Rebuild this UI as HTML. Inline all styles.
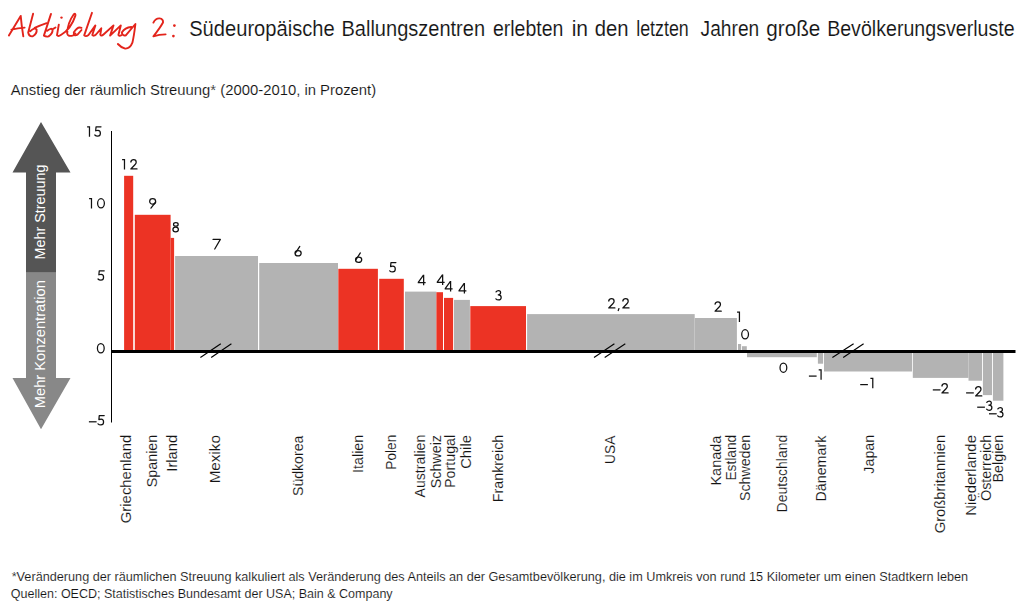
<!DOCTYPE html>
<html><head><meta charset="utf-8"><style>
html,body{margin:0;padding:0;background:#fff;width:1024px;height:613px;overflow:hidden}
svg{position:absolute;left:0;top:0;display:block}
text{font-family:"Liberation Sans",sans-serif;fill:#141414}
.xl{stroke:#fff;stroke-width:0.12px}
.wt{stroke:none}
</style></head><body>
<svg width="1024" height="613" viewBox="0 0 1024 613">

<g fill="none" stroke="#e3241b" stroke-width="1.9" stroke-linecap="round" stroke-linejoin="round">
<path d="M8.9,35.4 L20.7,15.9 Q21.6,26 23.3,36.4 M11.4,29.6 Q18,28 24.6,27.6"/>
<path d="M33.1,13.7 L28.2,32.5 Q29,36.8 32.8,36.3 Q37.2,33.5 36.6,29.6 Q35,27 30.2,31.2 M34.6,27.9 Q40,25.5 46.6,23.2"/>
<path d="M51,13.9 L43.9,35.6 Q46,37 48.6,36.4 Q52.8,33.5 52.6,29.8 Q51.4,27.4 47.2,30.8 M52.4,29.4 L55.5,27.5"/>
<path d="M58.8,24.7 L57,35.2 Q58.2,36.8 61.2,34.8 Q71,29 75.4,15.6 Q75.8,12.8 73.8,14.2 Q67.4,23 67.2,33.6 Q67.8,37 73.3,35.3 L75.5,33.6"/>
<circle cx="61.5" cy="17.6" r="1.2" fill="#e3241b" stroke="none"/>
<path d="M81.5,27.8 Q77.5,26 73.8,32.5 Q73.6,36.6 77.5,34.6 L81.5,30 M92,12.8 L84.2,35.4 Q86,37 88.5,35 L95.4,25.4 L92.3,35 Q93.5,36.6 96,34.5 L101.3,28.3 L100.3,34.6 Q101.2,36.6 103.5,34.5 L113.5,25.4 L110.1,35.6 L120.8,25.4 L118.4,35 Q119,36.6 121.5,35.2"/>
<path d="M131.2,27 Q125,27.5 121.8,32.5 Q122.5,36.2 125.8,35.3 L135.4,24 Q134,36 132.4,42.7 Q130,48.8 125.2,48.6 Q121,47.5 117.9,44"/>
<path d="M153.4,22.6 Q155.5,18.2 159.5,18.4 Q163.5,19 163,22.5 Q160,28 153.4,36.3 Q159,34.6 165.6,34.4"/>
<circle cx="174.4" cy="25.6" r="1.35" fill="#e3241b" stroke="none"/><circle cx="173.4" cy="36.1" r="1.35" fill="#e3241b" stroke="none"/>
</g>
<text class="xl" x="189.19" y="35.6" font-size="22.5" textLength="145.47" lengthAdjust="spacingAndGlyphs">Südeuropäische</text>
<text class="xl" x="341.50" y="35.6" font-size="22.5" textLength="143.53" lengthAdjust="spacingAndGlyphs">Ballungszentren</text>
<text class="xl" x="492.92" y="35.6" font-size="22.5" textLength="70.42" lengthAdjust="spacingAndGlyphs">erlebten</text>
<text class="xl" x="571.63" y="35.6" font-size="22.5" textLength="16.41" lengthAdjust="spacingAndGlyphs">in</text>
<text class="xl" x="594.69" y="35.6" font-size="22.5" textLength="33.80" lengthAdjust="spacingAndGlyphs">den</text>
<text class="xl" x="636.24" y="35.6" font-size="22.5" textLength="52.54" lengthAdjust="spacingAndGlyphs">letzten</text>
<text class="xl" x="700.61" y="35.6" font-size="22.5" textLength="58.59" lengthAdjust="spacingAndGlyphs">Jahren</text>
<text class="xl" x="766.27" y="35.6" font-size="22.5" textLength="54.01" lengthAdjust="spacingAndGlyphs">große</text>
<text class="xl" x="827.13" y="35.6" font-size="22.5" textLength="187.47" lengthAdjust="spacingAndGlyphs">Bevölkerungsverluste</text>
<text class="xl" x="10.7" y="95" font-size="15" textLength="365.5" lengthAdjust="spacingAndGlyphs">Anstieg der räumlich Streuung* (2000-2010, in Prozent)</text>
<path d="M41,122 L70.5,172.6 L56,172.6 L56,272.8 L26,272.8 L26,172.6 L12.5,172.6 Z" fill="#555"/>
<path d="M41,429.2 L70.5,378 L56,378 L56,272.8 L26,272.8 L26,378 L12.5,378 Z" fill="#888"/>
<rect x="124.1" y="175.8" width="9.1" height="174.2" fill="#ec3324"/>
<rect x="134.8" y="214.8" width="35.8" height="135.2" fill="#ec3324"/>
<rect x="170.6" y="237.9" width="3.5" height="112.1" fill="#ec3324"/>
<rect x="175.1" y="256.0" width="82.9" height="94.0" fill="#b3b3b3"/>
<rect x="259.2" y="263.0" width="78.8" height="87.0" fill="#b3b3b3"/>
<rect x="338.3" y="268.8" width="39.6" height="81.2" fill="#ec3324"/>
<rect x="379.2" y="278.8" width="24.6" height="71.2" fill="#ec3324"/>
<rect x="405.0" y="291.6" width="31.4" height="58.4" fill="#b3b3b3"/>
<rect x="436.4" y="292.2" width="6.6" height="57.8" fill="#ec3324"/>
<rect x="444.0" y="297.9" width="9.1" height="52.1" fill="#ec3324"/>
<rect x="454.0" y="299.9" width="15.9" height="50.1" fill="#b3b3b3"/>
<rect x="470.3" y="306.1" width="55.7" height="43.9" fill="#ec3324"/>
<rect x="527.1" y="314.1" width="167.6" height="35.9" fill="#b3b3b3"/>
<rect x="694.9" y="318.0" width="42.0" height="32.0" fill="#b3b3b3"/>
<rect x="738.0" y="344.0" width="3.1" height="6.0" fill="#b3b3b3"/>
<rect x="742.0" y="346.2" width="4.8" height="3.8" fill="#b3b3b3"/>
<rect x="747.0" y="353.0" width="69.8" height="4.2" fill="#b3b3b3"/>
<rect x="817.9" y="353.0" width="5.2" height="10.7" fill="#b3b3b3"/>
<rect x="824.0" y="353.0" width="88.0" height="18.5" fill="#b3b3b3"/>
<rect x="912.8" y="353.0" width="55.7" height="24.9" fill="#b3b3b3"/>
<rect x="968.5" y="353.0" width="13.5" height="27.7" fill="#b3b3b3"/>
<rect x="982.9" y="353.0" width="9.1" height="42.1" fill="#b3b3b3"/>
<rect x="992.9" y="353.0" width="10.5" height="47.7" fill="#b3b3b3"/>
<rect x="111" y="131" width="1" height="291.5" fill="#000"/>
<rect x="111" y="350.0" width="904.5" height="3.0" fill="#000"/>
<g stroke="#000" stroke-width="1.15" fill="none">
<line x1="200.4" y1="357.5" x2="220.8" y2="343.7"/>
<line x1="211.2" y1="357.5" x2="231.4" y2="343.7"/>
<line x1="594.0" y1="357.5" x2="614.4" y2="343.7"/>
<line x1="604.7" y1="357.5" x2="625.3" y2="343.7"/>
<line x1="832.4" y1="357.5" x2="853.6" y2="343.7"/>
<line x1="843.2" y1="357.5" x2="863.6" y2="343.7"/>
</g>
<g fill="none" stroke="#111" stroke-width="1.25" stroke-linecap="round" stroke-linejoin="round"><g transform="translate(122.10,169.60)"><path d="M0,-9.88 L2.38,-9.88 M2.38,-10.5 L2.38,0" stroke-linecap="butt"/></g><g transform="translate(130.00,169.60)"><path d="M0.8,-7.6 Q1.3,-9.88 3.6,-9.88 Q6.2,-9.88 6.2,-7.4 Q6.2,-6.1 4.9,-4.8 L0.85,-0.62 L7.0,-0.62"/></g></g>
<g fill="none" stroke="#111" stroke-width="1.25" stroke-linecap="round" stroke-linejoin="round"><g transform="translate(149.05,208.50)"><ellipse cx="3.6" cy="-7.1" rx="2.98" ry="2.78"/><path d="M6.55,-6.5 L1.9,-0.3"/></g></g>
<g fill="none" stroke="#111" stroke-width="1.25" stroke-linecap="round" stroke-linejoin="round"><g transform="translate(172.30,232.50)"><ellipse cx="3.55" cy="-8.1" rx="2.3" ry="1.78"/><ellipse cx="3.35" cy="-2.95" rx="2.73" ry="2.33"/></g></g>
<g fill="none" stroke="#111" stroke-width="1.25" stroke-linecap="round" stroke-linejoin="round"><g transform="translate(213.05,249.30)"><path d="M0,-9.88 L7.3,-9.88 L1.7,-0.3"/></g></g>
<g fill="none" stroke="#111" stroke-width="1.25" stroke-linecap="round" stroke-linejoin="round"><g transform="translate(294.40,256.60)"><path d="M5.4,-10.2 L1.0,-3.4"/><ellipse cx="3.7" cy="-3.3" rx="3.08" ry="2.68"/></g></g>
<g fill="none" stroke="#111" stroke-width="1.25" stroke-linecap="round" stroke-linejoin="round"><g transform="translate(354.95,263.10)"><path d="M5.4,-10.2 L1.0,-3.4"/><ellipse cx="3.7" cy="-3.3" rx="3.08" ry="2.68"/></g></g>
<g fill="none" stroke="#111" stroke-width="1.25" stroke-linecap="round" stroke-linejoin="round"><g transform="translate(389.10,272.50)"><path d="M6.8,-9.88 L1.85,-9.88 L1.5,-5.9 Q2.6,-6.45 3.7,-6.45 Q6.18,-6.45 6.18,-3.5 Q6.18,-0.62 3.5,-0.62 Q1.6,-0.62 0.62,-1.7"/></g></g>
<g fill="none" stroke="#111" stroke-width="1.25" stroke-linecap="round" stroke-linejoin="round"><g transform="translate(417.45,285.20)"><path d="M6.2,-10.5 L6.2,0 M6.0,-10.1 L0.62,-2.6 M0.3,-2.6 L8.2,-2.6" stroke-linecap="butt"/></g></g>
<g fill="none" stroke="#111" stroke-width="1.25" stroke-linecap="round" stroke-linejoin="round"><g transform="translate(436.45,285.00)"><path d="M6.2,-10.5 L6.2,0 M6.0,-10.1 L0.62,-2.6 M0.3,-2.6 L8.2,-2.6" stroke-linecap="butt"/></g></g>
<g fill="none" stroke="#111" stroke-width="1.25" stroke-linecap="round" stroke-linejoin="round"><g transform="translate(444.40,291.50)"><path d="M6.2,-10.5 L6.2,0 M6.0,-10.1 L0.62,-2.6 M0.3,-2.6 L8.2,-2.6" stroke-linecap="butt"/></g></g>
<g fill="none" stroke="#111" stroke-width="1.25" stroke-linecap="round" stroke-linejoin="round"><g transform="translate(458.20,293.40)"><path d="M6.2,-10.5 L6.2,0 M6.0,-10.1 L0.62,-2.6 M0.3,-2.6 L8.2,-2.6" stroke-linecap="butt"/></g></g>
<g fill="none" stroke="#111" stroke-width="1.25" stroke-linecap="round" stroke-linejoin="round"><g transform="translate(495.30,300.50)"><path d="M0.75,-8.6 Q1.6,-9.88 3.2,-9.88 Q5.3,-9.88 5.3,-7.9 Q5.3,-5.75 2.9,-5.75 Q5.88,-5.75 5.88,-3.1 Q5.88,-0.62 3.2,-0.62 Q1.5,-0.62 0.62,-1.7"/></g></g>
<g fill="none" stroke="#111" stroke-width="1.25" stroke-linecap="round" stroke-linejoin="round"><g transform="translate(607.90,308.60)"><path d="M0.8,-7.6 Q1.3,-9.88 3.6,-9.88 Q6.2,-9.88 6.2,-7.4 Q6.2,-6.1 4.9,-4.8 L0.85,-0.62 L7.0,-0.62"/></g><g transform="translate(617.57,308.60)"><path d="M1.5,-0.5 L0.5,2.4" stroke-linecap="butt"/></g><g transform="translate(622.00,308.60)"><path d="M0.8,-7.6 Q1.3,-9.88 3.6,-9.88 Q6.2,-9.88 6.2,-7.4 Q6.2,-6.1 4.9,-4.8 L0.85,-0.62 L7.0,-0.62"/></g></g>
<g fill="none" stroke="#111" stroke-width="1.25" stroke-linecap="round" stroke-linejoin="round"><g transform="translate(714.25,311.80)"><path d="M0.8,-7.6 Q1.3,-9.88 3.6,-9.88 Q6.2,-9.88 6.2,-7.4 Q6.2,-6.1 4.9,-4.8 L0.85,-0.62 L7.0,-0.62"/></g></g>
<g fill="none" stroke="#111" stroke-width="1.25" stroke-linecap="round" stroke-linejoin="round"><g transform="translate(737.05,321.90)"><path d="M0,-9.88 L2.38,-9.88 M2.38,-10.5 L2.38,0" stroke-linecap="butt"/></g></g>
<g fill="none" stroke="#111" stroke-width="1.25" stroke-linecap="round" stroke-linejoin="round"><g transform="translate(741.10,339.60)"><ellipse cx="4.0" cy="-5.25" rx="3.38" ry="4.63"/></g></g>
<g fill="none" stroke="#111" stroke-width="1.25" stroke-linecap="round" stroke-linejoin="round"><g transform="translate(779.40,372.90)"><ellipse cx="4.0" cy="-5.25" rx="3.38" ry="4.63"/></g></g>
<g fill="none" stroke="#111" stroke-width="1.25" stroke-linecap="round" stroke-linejoin="round"><g transform="translate(808.90,379.80)"><path d="M0,-3.7 L7.7,-3.7" stroke-linecap="butt"/></g><g transform="translate(818.70,379.80)"><path d="M0,-9.88 L2.38,-9.88 M2.38,-10.5 L2.38,0" stroke-linecap="butt"/></g></g>
<g fill="none" stroke="#111" stroke-width="1.25" stroke-linecap="round" stroke-linejoin="round"><g transform="translate(860.20,388.30)"><path d="M0,-3.7 L7.7,-3.7" stroke-linecap="butt"/></g><g transform="translate(870.40,388.30)"><path d="M0,-9.88 L2.38,-9.88 M2.38,-10.5 L2.38,0" stroke-linecap="butt"/></g></g>
<g fill="none" stroke="#111" stroke-width="1.25" stroke-linecap="round" stroke-linejoin="round"><g transform="translate(932.80,393.60)"><path d="M0,-3.7 L7.7,-3.7" stroke-linecap="butt"/></g><g transform="translate(941.10,393.60)"><path d="M0.8,-7.6 Q1.3,-9.88 3.6,-9.88 Q6.2,-9.88 6.2,-7.4 Q6.2,-6.1 4.9,-4.8 L0.85,-0.62 L7.0,-0.62"/></g></g>
<g fill="none" stroke="#111" stroke-width="1.25" stroke-linecap="round" stroke-linejoin="round"><g transform="translate(966.10,396.60)"><path d="M0,-3.7 L7.7,-3.7" stroke-linecap="butt"/></g><g transform="translate(974.80,396.60)"><path d="M0.8,-7.6 Q1.3,-9.88 3.6,-9.88 Q6.2,-9.88 6.2,-7.4 Q6.2,-6.1 4.9,-4.8 L0.85,-0.62 L7.0,-0.62"/></g></g>
<g fill="none" stroke="#111" stroke-width="1.25" stroke-linecap="round" stroke-linejoin="round"><g transform="translate(977.20,410.90)"><path d="M0,-3.7 L7.7,-3.7" stroke-linecap="butt"/></g><g transform="translate(986.00,410.90)"><path d="M0.75,-8.6 Q1.6,-9.88 3.2,-9.88 Q5.3,-9.88 5.3,-7.9 Q5.3,-5.75 2.9,-5.75 Q5.88,-5.75 5.88,-3.1 Q5.88,-0.62 3.2,-0.62 Q1.5,-0.62 0.62,-1.7"/></g></g>
<g fill="none" stroke="#111" stroke-width="1.25" stroke-linecap="round" stroke-linejoin="round"><g transform="translate(989.00,417.50)"><path d="M0,-3.7 L7.7,-3.7" stroke-linecap="butt"/></g><g transform="translate(997.10,417.50)"><path d="M0.75,-8.6 Q1.6,-9.88 3.2,-9.88 Q5.3,-9.88 5.3,-7.9 Q5.3,-5.75 2.9,-5.75 Q5.88,-5.75 5.88,-3.1 Q5.88,-0.62 3.2,-0.62 Q1.5,-0.62 0.62,-1.7"/></g></g>
<g fill="none" stroke="#111" stroke-width="1.25" stroke-linecap="round" stroke-linejoin="round"><g transform="translate(87.10,136.70)"><path d="M0,-9.88 L2.38,-9.88 M2.38,-10.5 L2.38,0" stroke-linecap="butt"/></g><g transform="translate(94.20,136.70)"><path d="M6.8,-9.88 L1.85,-9.88 L1.5,-5.9 Q2.6,-6.45 3.7,-6.45 Q6.18,-6.45 6.18,-3.5 Q6.18,-0.62 3.5,-0.62 Q1.6,-0.62 0.62,-1.7"/></g></g>
<g fill="none" stroke="#111" stroke-width="1.25" stroke-linecap="round" stroke-linejoin="round"><g transform="translate(89.10,208.60)"><path d="M0,-9.88 L2.38,-9.88 M2.38,-10.5 L2.38,0" stroke-linecap="butt"/></g><g transform="translate(97.00,208.60)"><ellipse cx="4.0" cy="-5.25" rx="3.38" ry="4.63"/></g></g>
<g fill="none" stroke="#111" stroke-width="1.25" stroke-linecap="round" stroke-linejoin="round"><g transform="translate(97.40,280.70)"><path d="M6.8,-9.88 L1.85,-9.88 L1.5,-5.9 Q2.6,-6.45 3.7,-6.45 Q6.18,-6.45 6.18,-3.5 Q6.18,-0.62 3.5,-0.62 Q1.6,-0.62 0.62,-1.7"/></g></g>
<g fill="none" stroke="#111" stroke-width="1.25" stroke-linecap="round" stroke-linejoin="round"><g transform="translate(96.80,353.50)"><ellipse cx="4.0" cy="-5.25" rx="3.38" ry="4.63"/></g></g>
<g fill="none" stroke="#111" stroke-width="1.25" stroke-linecap="round" stroke-linejoin="round"><g transform="translate(88.90,425.50)"><path d="M0,-3.7 L7.7,-3.7" stroke-linecap="butt"/></g><g transform="translate(97.40,425.50)"><path d="M6.8,-9.88 L1.85,-9.88 L1.5,-5.9 Q2.6,-6.45 3.7,-6.45 Q6.18,-6.45 6.18,-3.5 Q6.18,-0.62 3.5,-0.62 Q1.6,-0.62 0.62,-1.7"/></g></g>
<text class="xl" transform="translate(131.0,522.5) rotate(-90)" x="-0.74" y="0" font-size="15" textLength="88.56" lengthAdjust="spacingAndGlyphs">Griechenland</text>
<text class="xl" transform="translate(157.0,486.7) rotate(-90)" x="-0.64" y="0" font-size="15" textLength="52.58" lengthAdjust="spacingAndGlyphs">Spanien</text>
<text class="xl" transform="translate(177.0,470.4) rotate(-90)" x="-1.33" y="0" font-size="15" textLength="37.02" lengthAdjust="spacingAndGlyphs">Irland</text>
<text class="xl" transform="translate(220.0,482.1) rotate(-90)" x="-1.22" y="0" font-size="15" textLength="48.27" lengthAdjust="spacingAndGlyphs">Mexiko</text>
<text class="xl" transform="translate(302.5,495.4) rotate(-90)" x="-0.63" y="0" font-size="15" textLength="60.35" lengthAdjust="spacingAndGlyphs">Südkorea</text>
<text class="xl" transform="translate(362.8,471.7) rotate(-90)" x="-1.29" y="0" font-size="15" textLength="38.27" lengthAdjust="spacingAndGlyphs">Italien</text>
<text class="xl" transform="translate(395.7,468.6) rotate(-90)" x="-1.09" y="0" font-size="15" textLength="34.92" lengthAdjust="spacingAndGlyphs">Polen</text>
<text class="xl" transform="translate(425.0,497.4) rotate(-90)" x="0.00" y="0" font-size="15" textLength="62.64" lengthAdjust="spacingAndGlyphs">Australien</text>
<text class="xl" transform="translate(440.9,487.6) rotate(-90)" x="-0.64" y="0" font-size="15" textLength="53.24" lengthAdjust="spacingAndGlyphs">Schweiz</text>
<text class="xl" transform="translate(454.6,486.9) rotate(-90)" x="-1.14" y="0" font-size="15" textLength="53.27" lengthAdjust="spacingAndGlyphs">Portugal</text>
<text class="xl" transform="translate(471.4,468.1) rotate(-90)" x="-0.74" y="0" font-size="15" textLength="33.79" lengthAdjust="spacingAndGlyphs">Chile</text>
<text class="xl" transform="translate(503.2,501.0) rotate(-90)" x="-1.14" y="0" font-size="15" textLength="67.35" lengthAdjust="spacingAndGlyphs">Frankreich</text>
<text class="xl" transform="translate(615.4,462.9) rotate(-90)" x="-1.03" y="0" font-size="15" textLength="28.25" lengthAdjust="spacingAndGlyphs">USA</text>
<text class="xl" transform="translate(721.1,484.4) rotate(-90)" x="-1.16" y="0" font-size="15" textLength="49.90" lengthAdjust="spacingAndGlyphs">Kanada</text>
<text class="xl" transform="translate(735.8,479.5) rotate(-90)" x="-1.10" y="0" font-size="15" textLength="45.80" lengthAdjust="spacingAndGlyphs">Estland</text>
<text class="xl" transform="translate(749.7,500.3) rotate(-90)" x="-0.64" y="0" font-size="15" textLength="66.16" lengthAdjust="spacingAndGlyphs">Schweden</text>
<text class="xl" transform="translate(787.0,511.3) rotate(-90)" x="-1.12" y="0" font-size="15" textLength="77.61" lengthAdjust="spacingAndGlyphs">Deutschland</text>
<text class="xl" transform="translate(826.1,500.3) rotate(-90)" x="-1.14" y="0" font-size="15" textLength="65.71" lengthAdjust="spacingAndGlyphs">Dänemark</text>
<text class="xl" transform="translate(873.5,473.5) rotate(-90)" x="-0.21" y="0" font-size="15" textLength="38.94" lengthAdjust="spacingAndGlyphs">Japan</text>
<text class="xl" transform="translate(944.6,532.6) rotate(-90)" x="-0.74" y="0" font-size="15" textLength="98.60" lengthAdjust="spacingAndGlyphs">Großbritannien</text>
<text class="xl" transform="translate(975.5,514.6) rotate(-90)" x="-1.20" y="0" font-size="15" textLength="80.82" lengthAdjust="spacingAndGlyphs">Niederlande</text>
<text class="xl" transform="translate(991.0,500.4) rotate(-90)" x="-0.65" y="0" font-size="15" textLength="66.32" lengthAdjust="spacingAndGlyphs">Österreich</text>
<text class="xl" transform="translate(1003.0,481.4) rotate(-90)" x="-1.15" y="0" font-size="15" textLength="47.79" lengthAdjust="spacingAndGlyphs">Belgien</text>
<text transform="translate(45,258.3) rotate(-90)" x="-1.15" font-size="15" class="wt" style="fill:#fff" textLength="94.98" lengthAdjust="spacingAndGlyphs">Mehr Streuung</text>
<text transform="translate(45,407.0) rotate(-90)" x="-1.17" font-size="15" class="wt" style="fill:#fff" textLength="127.96" lengthAdjust="spacingAndGlyphs">Mehr Konzentration</text>
<text class="xl" x="11.7" y="580.9" font-size="13.5" textLength="956.4" lengthAdjust="spacingAndGlyphs">*Veränderung der räumlichen Streuung kalkuliert als Veränderung des Anteils an der Gesamtbevölkerung, die im Umkreis von rund 15 Kilometer um einen Stadtkern leben</text>
<text class="xl" x="10.8" y="597.7" font-size="13.5" textLength="381.8" lengthAdjust="spacingAndGlyphs">Quellen: OECD; Statistisches Bundesamt der USA; Bain &amp; Company</text>
</svg></body></html>
